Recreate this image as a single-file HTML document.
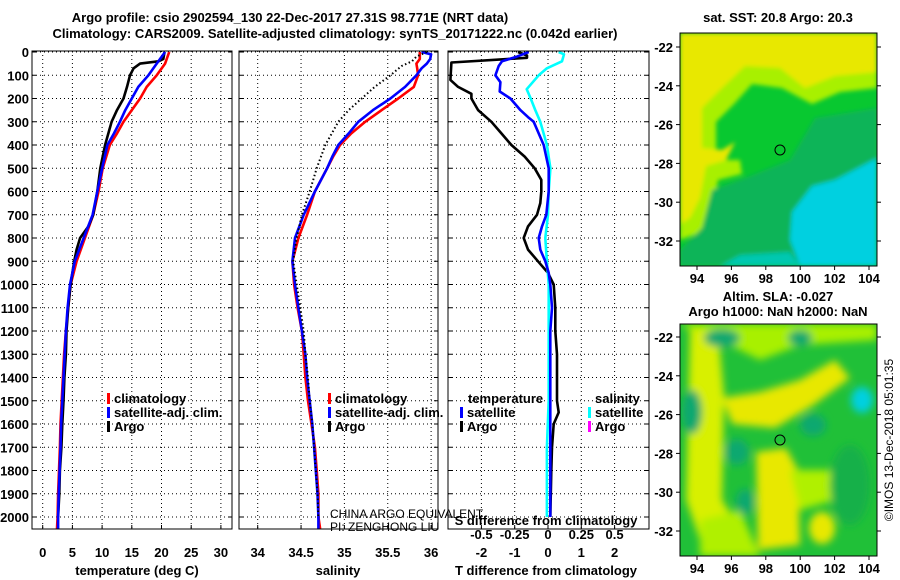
<!DOCTYPE html>
<html><head><meta charset="utf-8"><style>
body{margin:0;background:#fff;width:900px;height:580px;overflow:hidden}
svg{display:block}
text{font-family:"Liberation Sans",sans-serif;font-weight:bold;font-size:13px;fill:#000}
.n{font-weight:normal;font-size:12px}
</style></head><body>
<svg id="c" width="900" height="580" viewBox="0 0 900 580">
<defs>
<filter id="bl" x="-20%" y="-20%" width="140%" height="140%"><feGaussianBlur stdDeviation="4"/></filter>
<filter id="bl1" x="-5%" y="-5%" width="110%" height="110%"><feGaussianBlur stdDeviation="2"/></filter>
<clipPath id="m1c"><rect x="680" y="33" width="197" height="233"/></clipPath>
<clipPath id="m2c"><rect x="680" y="324" width="197" height="232"/></clipPath>
</defs>
<text x="290" y="22" text-anchor="middle" font-size="14">Argo profile: csio 2902594_130 22-Dec-2017 27.31S 98.771E (NRT data)</text>
<text x="335" y="38" text-anchor="middle" font-size="14">Climatology: CARS2009. Satellite-adjusted climatology: synTS_20171222.nc (0.042d earlier)</text>

<g clip-path="url(#m1c)">
<rect x="680" y="33" width="197" height="233" fill="#08c830"/>
<g filter="url(#bl1)">
<polygon fill="#a8f000" points="680,33 877,33 877,88 840,92 812,104 782,88 752,84 734,104 716,122 716,160 740,160 742,174 718,180 712,210 702,232 680,240"/>
<polygon fill="#e8e800" points="680,33 877,33 877,72 835,76 805,88 780,68 745,66 722,88 702,108 702,148 722,150 735,142 726,160 706,166 700,198 690,218 680,224"/>
<polygon fill="#10b458" points="712,190 745,178 790,160 815,118 877,108 877,266 680,266 680,250 702,228"/>
<polygon fill="#00d0e0" points="792,212 812,186 835,180 877,158 877,266 800,266 790,240"/>
<polygon fill="#00c8b0" points="720,266 740,255 790,252 800,266"/>
</g>
<circle cx="780" cy="150" r="5" fill="none" stroke="#000"/>
</g>
<rect x="680" y="33" width="197" height="233" fill="none" stroke="#000"/>

<g clip-path="url(#m2c)">
<rect x="680" y="324" width="197" height="232" fill="#20c038"/>
<g filter="url(#bl)">
<polygon fill="#a8f000" points="680,324 877,324 877,340 800,345 760,360 730,345 690,330"/>
<polygon fill="#d8f000" points="690,330 718,330 724,395 722,500 735,520 700,540 686,500"/>
<polygon fill="#e8e800" points="722,398 760,392 800,380 835,360 850,378 812,406 775,428 732,424"/>
<polygon fill="#e8e800" points="756,452 786,448 798,470 800,545 758,550"/>
<polygon fill="#b0f000" points="700,520 740,510 760,556 700,556"/>
<polygon fill="#b0f000" points="790,470 830,470 835,500 800,510"/>
<ellipse cx="822" cy="528" rx="13" ry="16" fill="#e8e800"/>
<ellipse cx="722" cy="338" rx="18" ry="9" fill="#10a870"/>
<ellipse cx="692" cy="412" rx="10" ry="22" fill="#10a870"/>
<ellipse cx="737" cy="452" rx="12" ry="13" fill="#10a870"/>
<ellipse cx="745" cy="502" rx="9" ry="13" fill="#10a870"/>
<ellipse cx="813" cy="425" rx="13" ry="11" fill="#10a870"/>
<ellipse cx="862" cy="400" rx="11" ry="13" fill="#00d0e0"/>
<ellipse cx="800" cy="338" rx="12" ry="8" fill="#10a870"/>
<ellipse cx="850" cy="485" rx="20" ry="40" fill="#18b048"/>
</g>
<circle cx="780" cy="440" r="5" fill="none" stroke="#000"/>
</g>
<rect x="680" y="324" width="197" height="232" fill="none" stroke="#000"/>

<text x="778" y="22" text-anchor="middle" font-size="12">sat. SST: 20.8 Argo: 20.3</text>
<text x="778" y="301" text-anchor="middle" font-size="12">Altim. SLA: -0.027</text>
<text x="778" y="316" text-anchor="middle" font-size="12">Argo h1000: NaN h2000: NaN</text>
<text x="893" y="440" text-anchor="middle" class="n" transform="rotate(-90 893 440)">©IMOS 13-Dec-2018 05:01:35</text>
<text x="330" y="518" class="n">CHINA ARGO EQUIVALENT</text>
<text x="330" y="531" class="n">PI: ZENGHONG LIU</text>
<g id="dyn"></g>
</svg>
<script>
// ---- data ----
const depthTicks = [0,100,200,300,400,500,600,700,800,900,1000,1100,1200,1300,1400,1500,1600,1700,1800,1900,2000];
const tempTicks = [0,5,10,15,20,25,30];
const salTicks = [34,34.5,35,35.5,36];
const salTickLabels = ["34","34.5","35","35.5","36"];
const tdiffTicks = [-2,-1,0,1,2];
const tdiffTickLabels = ["-2","-1","0","1","2"];
const sdiffTicks = [-0.5,-0.25,0,0.25,0.5];
const sdiffTickLabels = ["-0.5","-0.25","0","0.25","0.5"];
const lonTicks = [94,96,98,100,102,104];
const latTicks = [-22,-24,-26,-28,-30,-32];

const tempDepth = [0,50,100,150,200,250,300,350,400,500,600,700,800,900,1000,1100,1200,1300,1400,1500,1600,1700,1800,1900,2000,2050];
const tempClim = [21.3,20.6,19.2,17.5,16.4,15,13.6,12.5,11.3,10.1,9.4,8.5,7.1,5.7,4.7,4.3,3.9,3.6,3.4,3.2,3.0,2.9,2.75,2.6,2.5,2.4];
const tempSat = [20.6,19.2,17.8,16.1,15,13.9,13,12,10.9,10,9.2,8.4,6.9,5.4,4.6,4.2,3.9,3.7,3.5,3.3,3.1,3.0,2.85,2.7,2.6,2.6];
const argoDepth = [0,30,40,50,70,100,150,200,250,300,400,500,600,700,750,800,850,900,1000,1100,1200,1300,1400,1500,1600,1700,1800,1900,2000];
const argoTemp = [20.5,20.3,19.5,16.4,15.3,14.7,14.2,13.6,12.5,11.6,10.5,9.7,9.2,8.5,7.7,6.3,5.7,5.3,4.7,4.3,4.0,3.9,3.65,3.5,3.3,3.15,2.9,2.8,2.6];

const salDepth = [0,10,30,50,70,100,150,200,250,300,350,400,450,500,600,700,800,900,1000,1100,1200,1300,1400,1500,1600,1700,1800,1900,2000,2050];
const salClim = [35.87,35.87,35.87,35.83,35.84,35.85,35.8,35.62,35.43,35.24,35.08,34.95,34.87,34.8,34.66,34.57,34.47,34.4,34.42,34.46,34.51,34.53,34.55,34.58,34.62,34.66,34.68,34.7,34.7,34.72];
const salSat = [35.89,36.0,35.99,35.95,35.89,35.83,35.7,35.53,35.33,35.16,35.05,34.93,34.86,34.8,34.66,34.53,34.43,34.4,34.43,34.47,34.51,34.55,34.57,34.6,34.63,34.65,34.67,34.69,34.7,34.7];
const argoSalDepth = [0,20,40,60,100,150,200,250,300,400,500,600,700,800,900,1000,1100,1200,1300,1400,1500,1600,1700,1800,1900,2000];
const argoSal = [35.95,35.83,35.78,35.66,35.53,35.35,35.2,35.05,34.93,34.78,34.68,34.6,34.51,34.45,34.41,34.45,34.49,34.53,34.55,34.58,34.6,34.63,34.65,34.67,34.69,34.7];

const argoTDiffDepth = [0,15,25,45,120,150,180,200,250,300,350,400,450,500,550,600,650,700,750,800,850,900,950,1000,1100,1200,1300,1400,1500,1550,1600,1700,1800,2000];
const argoTDiff = [-0.9,-0.63,-0.63,-2.9,-2.93,-2.7,-2.3,-2.3,-2.1,-1.7,-1.4,-1.1,-0.7,-0.4,-0.2,-0.2,-0.23,-0.33,-0.6,-0.73,-0.6,-0.3,0,0.17,0.22,0.22,0.27,0.27,0.27,0.32,0.17,0.12,0.1,0.07];
const satTDiffDepth = [0,20,40,60,100,130,170,200,250,280,300,400,500,600,700,750,800,850,900,950,1000,1100,1200,2000];
const satTDiff = [-0.58,-0.93,-1.38,-1.48,-1.58,-1.43,-1.45,-1.13,-0.83,-0.6,-0.43,-0.13,0.02,0.02,-0.05,-0.18,-0.28,-0.23,-0.08,0.02,0.07,0.12,0.07,0.07];
const satSDiffDepth = [0,10,40,70,100,160,200,250,300,400,500,600,700,800,900,1000,1500,1700,2000];
const satSDiff = [0.08,0.12,0.105,-0.008,-0.07,-0.16,-0.13,-0.095,-0.058,-0.008,0.018,0.005,0,-0.02,-0.008,0.005,0.005,-0.008,-0.008];

// ---- scales ----
const TOP=51, BOT=529;
const yD = d => 52 + d*0.2325;
const xT = t => 42.7 + t*5.94;
const xS = s => 257.7 + (s-34)*86.7;
const xTD = t => 548 + t*33.3;
const xSD = s => 548 + s*133.2;
const xLon = l => 697 + (l-94)*17.2;
const yLat1 = l => 47 + (-22-l)*19.4;
const yLat2 = l => 337 + (-22-l)*19.4;

const NS='http://www.w3.org/2000/svg';
const g=document.getElementById('dyn');
function mk(tag, attrs, parent){const e=document.createElementNS(NS,tag);for(const k in attrs)e.setAttribute(k,attrs[k]);(parent||g).appendChild(e);return e;}
function txt(x,y,s,anchor,parent){const e=mk('text',{x:x,y:y,'text-anchor':anchor||'middle'},parent);e.textContent=s;return e;}

const panels=[{n:'temperature',x0:32,x1:232},{n:'salinity',x0:239,x1:438},{n:'difference',x0:448,x1:649}];
panels.forEach(p=>{
  const pg=mk('g',{});
  
  
  depthTicks.forEach(d=>{
    mk('line',{x1:p.x0,x2:p.x1,y1:yD(d),y2:yD(d),stroke:'#000','stroke-dasharray':'1,3'},pg);
    mk('line',{x1:p.x0,x2:p.x0+4,y1:yD(d),y2:yD(d),stroke:'#000'},pg);
    mk('line',{x1:p.x1-4,x2:p.x1,y1:yD(d),y2:yD(d),stroke:'#000'},pg);
  });
  p.g=pg;
});
depthTicks.forEach(d=>{
  const e=txt(29,yD(d)+5,String(d),'end');
  
  
});
function vgrid(p,xs,fn){xs.forEach(v=>{const x=fn(v);mk('line',{x1:x,x2:x,y1:TOP,y2:BOT,stroke:'#000','stroke-dasharray':'1,3'},p.g);mk('line',{x1:x,x2:x,y1:BOT-4,y2:BOT,stroke:'#000'},p.g);});}
vgrid(panels[0],tempTicks,xT);
vgrid(panels[1],salTicks,xS);
vgrid(panels[2],tdiffTicks,xTD);
tempTicks.forEach(t=>{const e=txt(xT(t),557,String(t));});
salTicks.forEach((s,i)=>{const e=txt(xS(s),557,salTickLabels[i]);});
tdiffTicks.forEach((t,i)=>{const e=txt(xTD(t),557,tdiffTickLabels[i]);});
sdiffTicks.forEach((s,i)=>{const e=txt(xSD(s),539,sdiffTickLabels[i]);});

function line(xs,ds,fx,color,dash,name){
  const pts=xs.map((v,i)=>fx(v).toFixed(1)+','+yD(ds[i]).toFixed(1)).join(' ');
  const e=mk('polyline',{points:pts,fill:'none',stroke:color,'stroke-width':dash?2:2.6,'stroke-linejoin':'round'});
  if(dash)e.setAttribute('stroke-dasharray',dash);
  
  
}
line(tempClim,tempDepth,xT,'#f00',null,'temperature-climatology-line');
line(argoTemp,argoDepth,xT,'#000',null,'temperature-argo-line');
line(tempSat,tempDepth,xT,'#00f',null,'temperature-satellite-line');
line(salClim,salDepth,xS,'#f00',null,'salinity-climatology-line');
line(salSat,salDepth,xS,'#00f',null,'salinity-satellite-line');
line(argoSal,argoSalDepth,xS,'#000','1.5,2.5','salinity-argo-line');
line(argoTDiff,argoTDiffDepth,xTD,'#000',null,'t-diff-argo-line');
line(satSDiff,satSDiffDepth,xSD,'#00ffff',null,'s-diff-satellite-line');
line(satTDiff,satTDiffDepth,xTD,'#00f',null,'t-diff-satellite-line');

panels.forEach(p=>mk('rect',{x:p.x0,y:TOP,width:p.x1-p.x0,height:BOT-TOP,fill:'none',stroke:'#000'}));

function leg(x,y,color,label,name){
  mk('rect',{x:x,y:y-10,width:3,height:11,fill:color});
  const e=txt(x+7,y,label,'start');
  
  
}
leg(107,403,'#f00','climatology','temp-legend-climatology');
leg(107,417,'#00f','satellite-adj. clim.','temp-legend-satellite');
leg(107,431,'#000','Argo','temp-legend-argo');
leg(328,403,'#f00','climatology','sal-legend-climatology');
leg(328,417,'#00f','satellite-adj. clim.','sal-legend-satellite');
leg(328,431,'#000','Argo','sal-legend-argo');
txt(468,403,'temperature','start');
leg(460,417,'#00f','satellite','diff-legend-t-satellite');
leg(460,431,'#000','Argo','diff-legend-t-argo');
txt(595,403,'salinity','start');
leg(588,417,'#00ffff','satellite','diff-legend-s-satellite');
leg(588,431,'#ff00ff','Argo','diff-legend-s-argo');

let e;
e=txt(137,575,'temperature (deg C)');
e=txt(338,575,'salinity');
e=txt(546,575,'T difference from climatology');
e=txt(546,525,'S difference from climatology');

[[yLat1,266,283],[yLat2,556,573]].forEach(([fy,yb,yl])=>{
  lonTicks.forEach(l=>{mk('line',{x1:xLon(l),x2:xLon(l),y1:yb,y2:yb+4,stroke:'#000'});const t=txt(xLon(l),yl,String(l));});
  latTicks.forEach(l=>{mk('line',{x1:676,x2:680,y1:fy(l),y2:fy(l),stroke:'#000'});mk('line',{x1:877,x2:881,y1:fy(l),y2:fy(l),stroke:'#000'});const t=txt(673,fy(l)+5,String(l),'end');});
});
</script>
</body></html>
